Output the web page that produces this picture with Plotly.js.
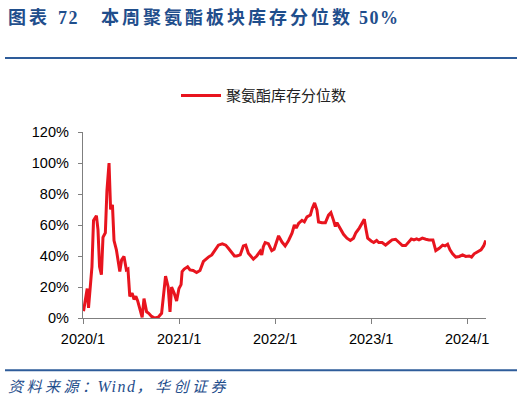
<!DOCTYPE html>
<html>
<head>
<meta charset="utf-8">
<script src="https://cdn.plot.ly/plotly-3.0.1.min.js"></script>
<style>
  html, body { margin: 0; padding: 0; background: #fff; }
  #wrap { position: relative; width: 524px; height: 406px; }
  #chart { position: absolute; left: 0; top: 0; width: 524px; height: 406px; }
  .caption {
    position: absolute; left: 8px; white-space: nowrap; color: #1F4E8C;
    line-height: 20px;
  }
  .caption .cj { font-family: "Noto Sans CJK SC", sans-serif; }
  .caption .lat { font-family: "Liberation Serif", "DejaVu Serif", serif; }
  #heading { top: 6px; font-weight: bold; }
  #heading .cj { font-size: 18px; letter-spacing: 3px; }
  #heading .lat { font-size: 18px; letter-spacing: 1.5px; }
  #source { top: 376px; font-style: italic; }
  #source .cj { font-size: 15px; letter-spacing: 3.5px; }
  #source .lat { font-size: 16px; letter-spacing: 1.5px; }
</style>
</head>
<body>
<div id="wrap">
  <div id="chart"></div>
  <div id="heading" class="caption"></div>
  <div id="source" class="caption"></div>
</div>
<script>
// 聚氨酯库存分位数 (weekly observations, %)
const dates = [
  '2020-01-03','2020-01-17','2020-01-22','2020-02-04','2020-02-10','2020-02-21','2020-02-27','2020-03-04',
  '2020-03-11','2020-03-17','2020-03-26','2020-04-01','2020-04-09','2020-04-15','2020-04-22','2020-04-28',
  '2020-05-07','2020-05-20','2020-05-27','2020-06-05','2020-06-14','2020-06-20','2020-06-27','2020-07-06',
  '2020-07-13','2020-07-20','2020-07-27','2020-08-04','2020-08-13','2020-08-20','2020-08-30','2020-09-07',
  '2020-09-18','2020-09-30','2020-10-13','2020-10-26','2020-11-01','2020-11-10','2020-11-20','2020-11-27',
  '2020-12-03','2020-12-13','2020-12-22','2020-12-31','2021-01-08','2021-01-12','2021-01-20','2021-02-02',
  '2021-02-11','2021-02-23','2021-03-08','2021-03-21','2021-04-03','2021-04-12','2021-04-22','2021-05-05',
  '2021-05-17','2021-05-30','2021-06-14','2021-06-27','2021-07-07','2021-07-20','2021-07-30','2021-08-08',
  '2021-08-21','2021-09-02','2021-09-11','2021-09-21','2021-10-10','2021-10-23','2021-11-05','2021-11-11',
  '2021-11-17','2021-11-24','2021-12-06','2021-12-19','2021-12-28','2022-01-14','2022-01-27','2022-02-08',
  '2022-02-21','2022-03-06','2022-03-15','2022-03-22','2022-03-31','2022-04-13','2022-04-22','2022-05-02',
  '2022-05-15','2022-05-22','2022-05-31','2022-06-09','2022-06-15','2022-06-28','2022-07-11','2022-07-23',
  '2022-08-01','2022-08-11','2022-08-18','2022-08-24','2022-09-06','2022-09-18','2022-10-01','2022-10-14',
  '2022-10-26','2022-11-04','2022-11-17','2022-11-27','2022-12-06','2022-12-13','2022-12-19','2023-01-01',
  '2023-01-11','2023-01-22','2023-01-30','2023-02-12','2023-02-25','2023-03-09','2023-03-22','2023-04-04',
  '2023-04-17','2023-04-30','2023-05-12','2023-05-25','2023-06-03','2023-06-13','2023-06-23','2023-07-02',
  '2023-07-15','2023-07-28','2023-08-09','2023-08-24','2023-09-04','2023-09-17','2023-09-30','2023-10-09',
  '2023-10-19','2023-10-28','2023-11-07','2023-11-19','2023-12-02','2023-12-15','2023-12-27','2024-01-09',
  '2024-01-18','2024-01-28','2024-02-10','2024-02-23','2024-03-04','2024-03-12'
];
const percentile = [
  4.4, 19, 6.5, 33, 63, 66, 57, 33,
  28, 52, 55, 82, 100, 70, 73, 50,
  44, 30, 37.5, 39.7, 31, 31.6, 14, 16,
  12, 14, 11, 6.5, 0.5, 12.5, 4, 3,
  1, 0, 0.5, 3, 14, 27, 20, 4,
  20, 16, 11, 19, 21.5, 30, 31.6, 33,
  31, 30.7, 29.4, 30.7, 36.5, 38, 39.3, 40.7,
  44, 47, 47.8, 47, 45, 41.8, 40, 40,
  40.7, 46.5, 47, 41.8, 38, 40, 43, 40.7,
  46, 48.7, 48, 43.5, 44.4, 53, 49, 46.5,
  50, 54.7, 60, 58, 61, 63, 62, 65.3,
  66.4, 70.7, 74.3, 69.6, 62, 61.5, 61.5, 66.4,
  68, 63, 59, 61.5, 58, 54, 51.5, 50,
  51.5, 55, 58, 60.7, 63.7, 56.8, 51.5, 49.7,
  48.7, 50, 48.7, 48.7, 47, 48.7, 50.4, 50.8,
  49, 46.7, 46.7, 49, 51, 50.4, 51, 50.4,
  51.5, 50.8, 50.4, 50.4, 43.5, 45, 47, 46.5,
  47.6, 44, 41.4, 39.3, 39.7, 40.7, 39.7, 40,
  39.3, 41.4, 42.9, 44, 46.5, 50
];

const xTickVals = ['2020-01-01', '2021-01-01', '2022-01-01', '2023-01-01', '2024-01-01'];
const xTickText = ['2020/1', '2021/1', '2022/1', '2023/1', '2024/1'];
const yTickVals = [0, 20, 40, 60, 80, 100, 120];
const yTickText = ['0%', '20%', '40%', '60%', '80%', '100%', '120%'];

const seriesName = '聚氨酯库存分位数';
// heading and source line, split into CJK / Latin runs: [text, class, left gap px]
const headingParts = [['图表', 'cj', 0], ['72', 'lat', 8], ['本周聚氨酯板块库存分位数', 'cj', 22], ['50%', 'lat', 6]];
const sourceParts = [['资料来源：', 'cj', 0], ['Wind', 'lat', -3], ['，华创证券', 'cj', 0]];

function fillCaption(id, parts) {
  const el = document.getElementById(id);
  parts.forEach(([txt, cls, gap]) => {
    const s = document.createElement('span');
    s.className = cls;
    s.textContent = txt;
    s.style.marginLeft = gap + 'px';
    el.appendChild(s);
  });
}
fillCaption('heading', headingParts);
fillCaption('source', sourceParts);

// plot area in pixels
const W = 524, H = 406;
const L = 83, R = 486, T = 131.5, B = 318.5;
const px = x => (x - L) / (R - L);
const py = y => (B - y) / (B - T);

const axisColor = '#7f7f7f';
const tickFont = { family: 'Liberation Sans, Arial, sans-serif', size: 14.5, color: '#000' };

const trace = {
  x: dates,
  y: percentile,
  type: 'scatter',
  mode: 'lines',
  name: seriesName,
  line: { color: '#E8141E', width: 3 },
  hoverinfo: 'skip'
};

const layout = {
  width: W,
  height: H,
  margin: { l: L, r: W - R, t: T, b: H - B, pad: 0 },
  paper_bgcolor: 'rgba(0,0,0,0)',
  plot_bgcolor: 'rgba(0,0,0,0)',
  font: { family: 'Liberation Sans, Arial, sans-serif', color: '#000', size: 13 },
  showlegend: true,
  legend: {
    orientation: 'h',
    x: px(176), xanchor: 'left',
    y: py(95), yanchor: 'middle',
    itemwidth: 40,
    font: { family: 'Noto Sans CJK SC, sans-serif', size: 15, color: '#222' },
    bgcolor: 'rgba(0,0,0,0)'
  },
  xaxis: {
    type: 'date',
    range: ['2020-01-01', '2024-03-13'],
    tickmode: 'array',
    tickvals: xTickVals,
    ticktext: xTickText,
    ticks: 'outside',
    ticklen: 5,
    tickwidth: 1,
    tickcolor: axisColor,
    showline: true,
    linecolor: axisColor,
    linewidth: 1.2,
    showgrid: false,
    zeroline: false,
    ticklabelstandoff: 2,
    tickfont: tickFont
  },
  yaxis: {
    range: [0, 120],
    tickmode: 'array',
    tickvals: yTickVals,
    ticktext: yTickText,
    ticks: 'outside',
    ticklen: 4,
    tickwidth: 1,
    tickcolor: axisColor,
    showline: true,
    linecolor: axisColor,
    linewidth: 1.2,
    showgrid: false,
    zeroline: false,
    ticklabelstandoff: 6,
    tickfont: tickFont
  },
  shapes: [
    { type: 'line', xref: 'paper', yref: 'paper', x0: px(5), x1: px(517), y0: py(57), y1: py(57),
      line: { color: '#2E5C9A', width: 2 } },
    { type: 'line', xref: 'paper', yref: 'paper', x0: px(5), x1: px(517), y0: py(371), y1: py(371),
      line: { color: '#2E5C9A', width: 2 } }
  ]
};

Plotly.newPlot('chart', [trace], layout, { displayModeBar: false, staticPlot: true });
</script>
</body>
</html>
